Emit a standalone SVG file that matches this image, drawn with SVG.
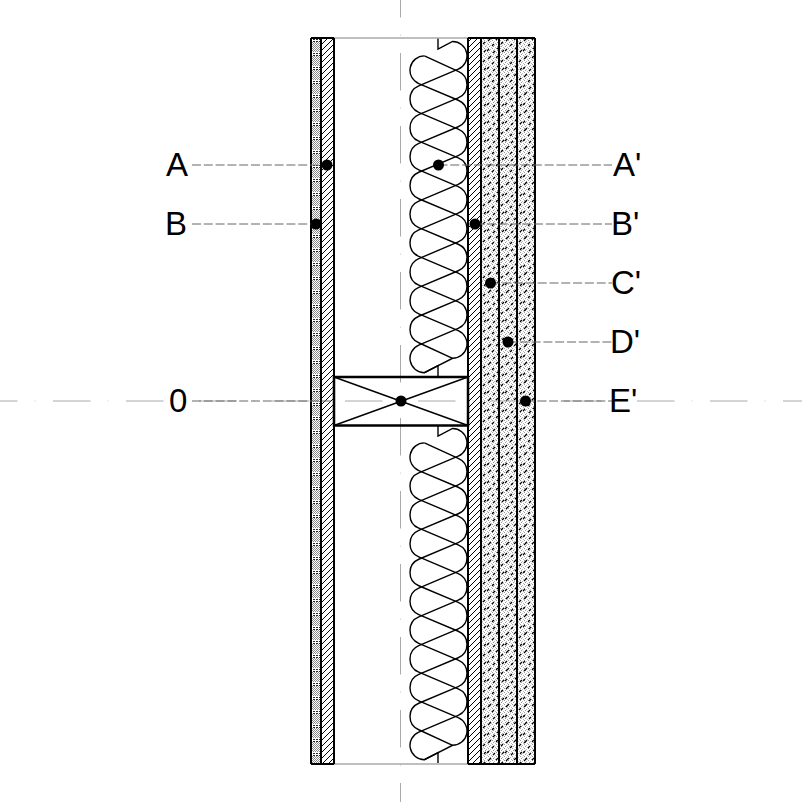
<svg xmlns="http://www.w3.org/2000/svg" width="802" height="802" viewBox="0 0 802 802">
<style>
.wall{stroke:#000;stroke-width:2;fill:none}
.thin{stroke:#aaa;stroke-width:1.5;fill:none}
.axis{stroke:#aaa;stroke-width:1;fill:none;stroke-dasharray:37.5 17.25 .7 17.55;stroke-dashoffset:20}
.lead{stroke:#666;stroke-width:1;fill:none;stroke-dasharray:9 2.8}
.batt{stroke:#000;stroke-width:1.4;fill:none}
.dot{fill:#000}
text{font-family:"Liberation Sans",Arial,sans-serif;font-size:33px;fill:#000}
</style>
<defs>
<pattern id="grey" width="2" height="2" patternUnits="userSpaceOnUse"><rect width="2" height="2" fill="#fff"/><rect width="1" height="1" fill="#888"/><rect x="1" y="1" width="1" height="1" fill="#888"/></pattern>
<pattern id="fine" width="10" height="14" patternUnits="userSpaceOnUse"><rect width="10" height="14" fill="url(#grey)"/><rect y="10" width="10" height="4" fill="#fff"/><path d="M0 11.500H10M0 13.500H10" stroke="#222" stroke-width="1" stroke-dasharray="2 1" fill="none" shape-rendering="crispEdges"/></pattern>
<pattern id="hatch" width="6" height="6" patternUnits="userSpaceOnUse"><rect width="6" height="6" fill="#fff"/><path d="M0 6L6 0" stroke="#000" stroke-width="1" shape-rendering="crispEdges"/></pattern>
<pattern id="grey2" width="4" height="4" patternUnits="userSpaceOnUse"><rect width="1" height="1" fill="#999"/><rect x="2" y="1" width="1" height="1" fill="#bbb"/><rect x="1" y="2" width="1" height="1" fill="#999"/><rect x="3" y="3" width="1" height="1" fill="#bbb"/></pattern>
<pattern id="speck" width="18" height="18" patternUnits="userSpaceOnUse"><path d="M2 5l3-3M10 4l2-2M15 8l2-2M6 10l2-2M1 15l2-2M11 13l3-3M7 17l2-2M16 16l2-2" stroke="#000" stroke-width="1.200" fill="none"/></pattern>
<g id="b" class="batt">
<path d="M438 38V49L452.600 41.500A14.400 14.400 0 0 1 458.230 69.150L418.770 85.850A14.400 14.400 0 0 0 418.770 112.350L458.230 129.050A14.400 14.400 0 0 1 458.230 155.550L418.770 172.250A14.400 14.400 0 0 0 418.770 198.750L458.230 215.450A14.400 14.400 0 0 1 458.230 241.950L418.770 258.650A14.400 14.400 0 0 0 418.770 285.150L458.230 301.850A14.400 14.400 0 0 1 458.230 328.350L418.770 345.050A14.400 14.400 0 0 0 424.400 372.700L438 365.700V376"/>
<path d="M424.400 55.900A14.400 14.400 0 0 0 418.770 83.550L458.230 100.250A14.400 14.400 0 0 1 458.230 126.750L418.770 143.450A14.400 14.400 0 0 0 418.770 169.950L458.230 186.650A14.400 14.400 0 0 1 458.230 213.150L418.770 229.850A14.400 14.400 0 0 0 418.770 256.350L458.230 273.050A14.400 14.400 0 0 1 458.230 299.550L418.770 316.250A14.400 14.400 0 0 0 418.770 342.750L452.600 358.300"/>
<path d="M424.400 55.900L458.230 71.450A14.400 14.400 0 0 1 458.230 97.950L418.770 114.650A14.400 14.400 0 0 0 418.770 141.150L458.230 157.850A14.400 14.400 0 0 1 458.230 184.350L418.770 201.050A14.400 14.400 0 0 0 418.770 227.550L458.230 244.250A14.400 14.400 0 0 1 458.230 270.750L418.770 287.450A14.400 14.400 0 0 0 418.770 313.950L458.230 330.650A14.400 14.400 0 0 1 452.600 358.300L424.400 372.700"/>
</g>
</defs>

<g id="layers">
<rect x="311" y="38" width="10" height="726" fill="url(#fine)"/>
<rect x="321" y="38" width="13" height="726" fill="url(#hatch)"/>
<rect x="468" y="38" width="13" height="726" fill="url(#hatch)"/>
<rect x="481" y="38" width="54" height="726" fill="url(#grey2)"/>
<rect x="481" y="38" width="54" height="726" fill="url(#speck)"/>
</g>
<g id="insulation">
<use href="#b"/>
<use href="#b" y="387"/>
</g>
<g id="axes">
<path class="axis" d="M0 401H802"/>
<path class="axis" d="M400.500 0V802"/>
</g>
<g id="wall">
<path class="thin" d="M334 38H468M334 764H468"/>
<path class="wall" d="M311 38H334M468 38H535M311 764H334M468 764H535M311 38V764M321 38V764M334 38V764M468 38V764M481 38V764M499 38V764M517 38V764M535 38V764"/>
</g>
<g id="stud">
<rect class="wall" x="334" y="377" width="134" height="48.500" style="stroke-width:2.500"/>
<path d="M334 377L468 425.500M468 377L334 425.500" stroke="#000" stroke-width="1.400" fill="none"/>
</g>
<g id="connectors">
<path class="lead" d="M192 165H327"/>
<path class="lead" d="M192 224H316"/>
<path class="lead" d="M192 401H334"/>
<path class="lead" d="M438.500 165H612"/>
<path class="lead" d="M475 224H612"/>
<path class="lead" d="M490.500 283H612"/>
<path class="lead" d="M508 342H612"/>
<path class="lead" d="M525.500 401H612"/>
</g>
<g id="point-A"><circle class="dot" cx="327" cy="165" r="5.500"/><text x="166" y="176">A</text></g>
<g id="point-B"><circle class="dot" cx="316" cy="224" r="5.500"/><text x="165" y="235">B</text></g>
<g id="point-0"><circle class="dot" cx="401" cy="401" r="5.500"/><text x="169" y="412">0</text></g>
<g id="point-A-prime"><circle class="dot" cx="438.500" cy="165" r="5.500"/><text x="613" y="176">A'</text></g>
<g id="point-B-prime"><circle class="dot" cx="475" cy="224" r="5.500"/><text x="611" y="235">B'</text></g>
<g id="point-C-prime"><circle class="dot" cx="490.500" cy="283" r="5.500"/><text x="611" y="294">C'</text></g>
<g id="point-D-prime"><circle class="dot" cx="508" cy="342" r="5.500"/><text x="610" y="353">D'</text></g>
<g id="point-E-prime"><circle class="dot" cx="525.500" cy="401" r="5.500"/><text x="609" y="412">E'</text></g>
</svg>
